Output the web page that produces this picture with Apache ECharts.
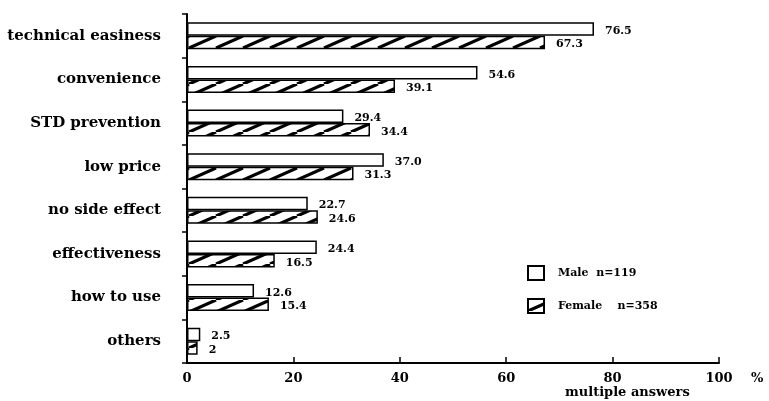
<!DOCTYPE html>
<html><head><meta charset="utf-8">
<script src="https://cdn.jsdelivr.net/npm/echarts@6/dist/echarts.min.js"></script>
<style>html,body{margin:0;padding:0;background:#fff}#c{width:769px;height:401px}</style>
</head><body><div id="c"></div>
<script>
const categories = ['technical easiness','convenience','STD prevention','low price','no side effect','effectiveness','how to use','others'];
const maleValues = [76.5, 54.6, 29.4, 37.0, 22.7, 24.4, 12.6, 2.5];
const femaleValues = [67.3, 39.1, 34.4, 31.3, 24.6, 16.5, 15.4, 2];
const maleLabels = ['76.5','54.6','29.4','37.0','22.7','24.4','12.6','2.5'];
const femaleLabels = ['67.3','39.1','34.4','31.3','24.6','16.5','15.4','2'];
const xTicks = [0, 20, 40, 60, 80, 100];

const FONT = '"DejaVu Serif", "Liberation Serif", serif';

// hatch pattern
const pc = document.createElement('canvas');
const W = 27, H = 12;
pc.width = W; pc.height = H;
const g = pc.getContext('2d');
g.fillStyle = '#fff'; g.fillRect(0, 0, W, H);
g.strokeStyle = '#000'; g.lineWidth = 3.2;
for (let k = -1; k <= 1; k++) {
  g.beginPath(); g.moveTo(k * W, H); g.lineTo(k * W + W, 0); g.stroke();
}
const hatch = { image: pc, repeat: 'repeat' };

const chart = echarts.init(document.getElementById('c'), null, { renderer: 'canvas' });
chart.setOption({
  animation: false,
  backgroundColor: '#fff',
  textStyle: { fontFamily: FONT },
  grid: { left: 187, right: 50, top: 14, bottom: 38, containLabel: false },
  legend: {
    orient: 'vertical', left: 527, top: 265, padding: 0,
    icon: 'rect',
    itemWidth: 16, itemHeight: 14, itemGap: 17,
    textStyle: { fontFamily: FONT, fontWeight: 'bold', fontSize: 11, color: '#000', padding: [0, 0, 0, 9] },
    formatter: function (n) { return n === 'Male' ? 'Male  n=119' : 'Female    n=358'; },
    data: ['Male', 'Female']
  },
  xAxis: {
    type: 'value', min: 0, max: 100, interval: 20,
    axisLine: { show: true, lineStyle: { color: '#000', width: 2 } },
    axisTick: { show: true, inside: true, length: 6, lineStyle: { color: '#000', width: 1.5 } },
    axisLabel: { color: '#000', fontFamily: FONT, fontWeight: 'bold', fontSize: 13, margin: 9,
      formatter: function (v) { return xTicks.indexOf(v) >= 0 ? String(v) : ''; } },
    splitLine: { show: false },
    name: '%', nameLocation: 'end', nameGap: 32,
    nameTextStyle: { color: '#000', fontFamily: FONT, fontWeight: 'bold', fontSize: 13, verticalAlign: 'top', padding: [9, 0, 0, 0] }
  },
  yAxis: {
    type: 'category', data: categories, inverse: true,
    axisLine: { show: true, lineStyle: { color: '#000', width: 2 } },
    axisTick: { show: true, inside: false, length: 5, lineStyle: { color: '#000', width: 1.5 } },
    axisLabel: { color: '#000', fontFamily: FONT, fontWeight: 'bold', fontSize: 15, margin: 26 }
  },
  series: [
    {
      name: 'Male', type: 'bar', data: maleValues,
      barGap: '0%', barCategoryGap: '38%',
      itemStyle: { color: '#fff', borderColor: '#000', borderWidth: 1.5 },
      label: { show: true, position: 'right', distance: 11, offset: [0, 2], color: '#000', fontFamily: FONT, fontWeight: 'bold', fontSize: 11,
        formatter: function (p) { return maleLabels[p.dataIndex]; } }
    },
    {
      name: 'Female', type: 'bar', data: femaleValues,
      barGap: '0%', barCategoryGap: '38%',
      itemStyle: { color: hatch, borderColor: '#000', borderWidth: 1.5 },
      label: { show: true, position: 'right', distance: 11, offset: [0, 2], color: '#000', fontFamily: FONT, fontWeight: 'bold', fontSize: 11,
        formatter: function (p) { return femaleLabels[p.dataIndex]; } }
    }
  ],
  graphic: [
    { type: 'text', left: 565, top: 386,
      style: { text: 'multiple answers', font: 'bold 13px ' + FONT, fill: '#000' } }
  ]
});
</script></body></html>
